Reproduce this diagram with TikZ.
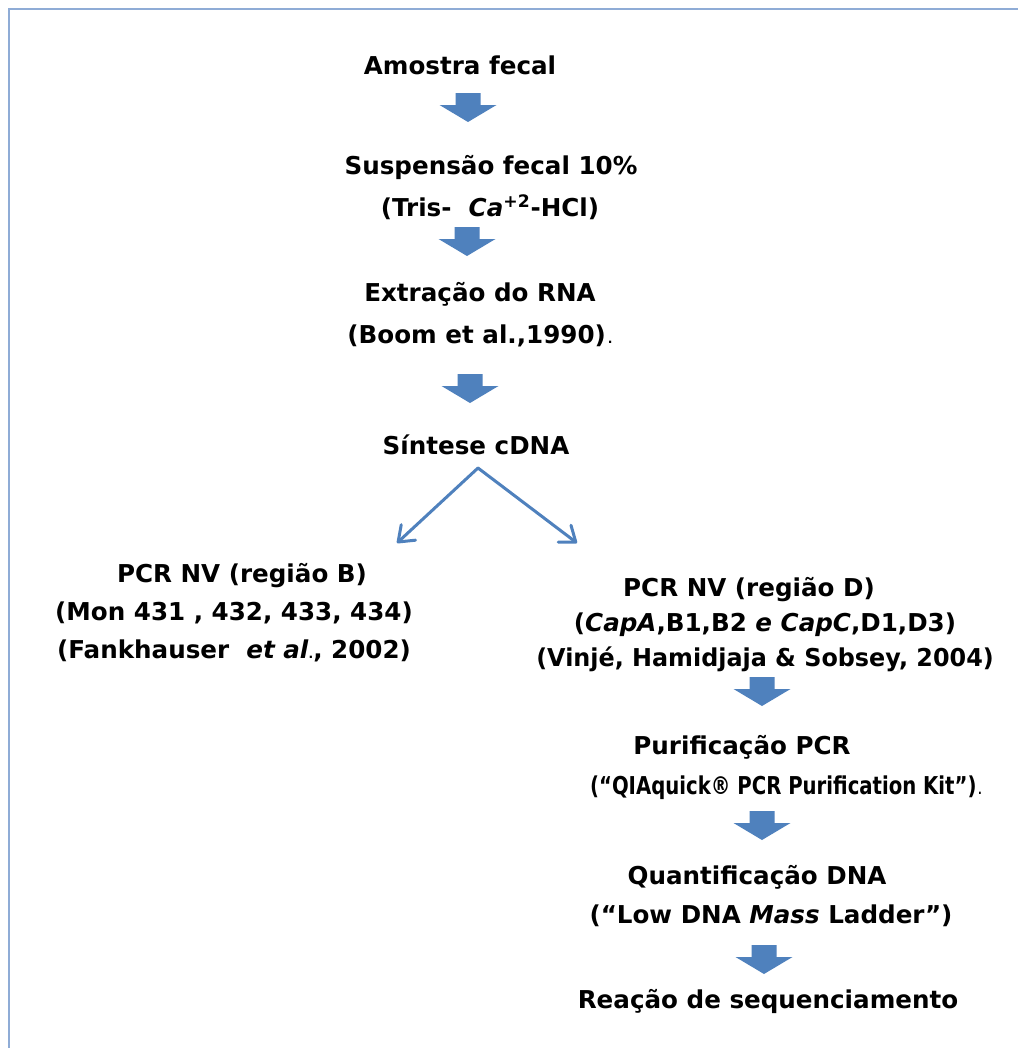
\documentclass[tikz,border=0pt]{standalone}
\usepackage{fontspec}
\usepackage{graphicx}
\setmainfont{DejaVu Sans}
\usetikzlibrary{arrows.meta}
\definecolor{ablue}{RGB}{79,129,189}
\definecolor{framecol}{RGB}{143,172,214}
\begin{document}
\begin{tikzpicture}[x=0.02cm,y=-0.02cm,
  txt/.style={font=\bfseries\fontsize{14pt}{22.8pt}\selectfont, inner sep=0pt, text height=10.2pt, text depth=2.7pt},
  downarrow/.pic={\fill[ablue] (-12.5,0) -- (12.5,0) -- (12.5,12) -- (28.5,12) -- (0,29) -- (-28.5,12) -- (-12.5,12) -- cycle;},
  varrow/.style={draw=ablue, line width=0.06cm, line cap=round, -{Straight Barb[length=8pt,width=12pt,line cap=round,line join=round]}}
]
\useasboundingbox (0,0) rectangle (1018,1048);
\fill[white] (0,0) rectangle (1018,1048);
\draw[framecol, line width=0.05cm] (9,1048) -- (9,9) -- (1018,9);

% text lines
\node[txt] (amostra) at (460,68) {Amostra fecal};
\node[txt] (susp) at (491,168) {Suspensão fecal 10\%};
\node[txt] (tris) at (490,210) {(Tris-\ \ \textit{Ca}\textsuperscript{+2}-HCl)};
\node[txt] (extr) at (480,295) {Extração do RNA};
\node[txt] (boom) at (480,337) {(Boom et al.,1990){\fontsize{7pt}{7pt}\selectfont\,.}};
\node[txt] (sint) at (476,448) {Síntese cDNA};
\node[txt] (pcrb) at (242,576) {PCR NV (região B)};
\node[txt] (mon) at (234,614) {(Mon 431 , 432, 433, 434)};
\node[txt] (fank) at (234,652) {(Fankhauser \ \textit{et al}{\fontsize{7pt}{7pt}\selectfont .}, 2002)};
\node[txt] (pcrd) at (749,590) {PCR NV (região D)};
\node[txt] (cap) at (765,625) {(\textit{CapA},B1,B2 \textit{e CapC},D1,D3)};
\node[txt] (vinje) at (765,660) {\scalebox{0.97}[1]{(Vinjé, Hamidjaja \& Sobsey, 2004)}};
\node[txt] (purif) at (742,748) {Purificação PCR};
\node[txt] (qia) at (786,788) {\scalebox{0.8}[1]{(“QIAquick® PCR Purification Kit”){\fontsize{7pt}{7pt}\selectfont\,.}}};
\node[txt] (quant) at (757,878) {Quantificação DNA};
\node[txt] (low) at (771,917) {(“Low DNA \textit{Mass} Ladder”)};
\node[txt] (reac) at (768,1002) {Reação de sequenciamento};

% block arrows
\coordinate (a1) at (468,93);
\coordinate (a2) at (467,227);
\coordinate (a3) at (470,374);
\coordinate (a4) at (762,677);
\coordinate (a5) at (762,811);
\coordinate (a6) at (764,945);
\foreach \c in {a1,a2,a3,a4,a5,a6} \pic at (\c) {downarrow};

% split arrows
\coordinate (apex) at (478,468);
\coordinate (tipb) at (397,543);
\coordinate (tipd) at (577,543);
\draw[varrow] (apex) -- (tipb);
\draw[varrow] (apex) -- (tipd);
\end{tikzpicture}
\end{document}
